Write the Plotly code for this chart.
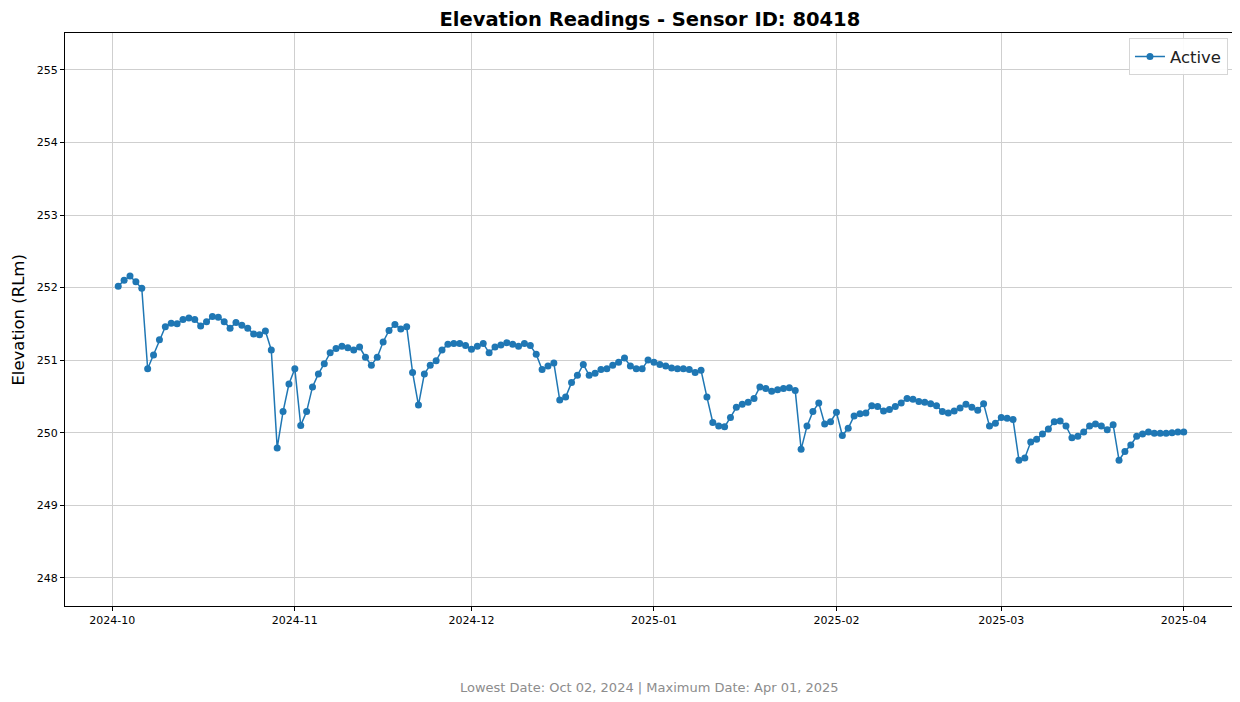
import pandas as pd
import plotly.graph_objects as go

# Daily elevation readings (RLm)
oct_values = [252.02, 252.10, 252.16, 252.08, 251.99, 250.88, 251.07, 251.28, 251.46, 251.51,
              251.50, 251.56, 251.58, 251.56, 251.47, 251.53, 251.60, 251.59, 251.53, 251.44,
              251.52, 251.48, 251.44, 251.36, 251.35, 251.40, 251.14, 249.79, 250.29, 250.67]
nov_values = [250.88, 250.10, 250.29, 250.63, 250.81, 250.95, 251.10, 251.16, 251.19, 251.17,
              251.14, 251.18, 251.04, 250.93, 251.04, 251.25, 251.41, 251.49, 251.43, 251.46,
              250.83, 250.38, 250.81, 250.93, 250.99, 251.14, 251.22, 251.23, 251.23, 251.20]
dec_values = [251.15, 251.19, 251.23, 251.10, 251.18, 251.21, 251.24, 251.22, 251.19, 251.23,
              251.20, 251.08, 250.87, 250.92, 250.96, 250.45, 250.49, 250.69, 250.79, 250.94,
              250.79, 250.82, 250.87, 250.88, 250.93, 250.97, 251.03, 250.92, 250.88, 250.88,
              251.00]
jan_values = [250.97, 250.94, 250.92, 250.89, 250.88, 250.88, 250.87, 250.83, 250.86, 250.49,
              250.14, 250.09, 250.08, 250.21, 250.35, 250.39, 250.42, 250.47, 250.63, 250.61,
              250.57, 250.59, 250.61, 250.62, 250.58, 249.77, 250.09, 250.29, 250.41, 250.12,
              250.15]
feb_values = [250.28, 249.96, 250.06, 250.23, 250.26, 250.27, 250.37, 250.36, 250.30, 250.32,
              250.36, 250.41, 250.47, 250.46, 250.43, 250.42, 250.40, 250.37, 250.29, 250.27,
              250.30, 250.34, 250.39, 250.35, 250.31, 250.40, 250.09, 250.13]
mar_values = [250.21, 250.20, 250.18, 249.62, 249.65, 249.87, 249.91, 249.98, 250.05, 250.15,
              250.16, 250.09, 249.93, 249.95, 250.01, 250.09, 250.12, 250.09, 250.04, 250.11,
              249.62, 249.74, 249.83, 249.95, 249.98, 250.01, 249.99, 249.99, 249.99, 250.00,
              250.01]
apr_values = [250.01]

FIRST_DATE = "2024-10-02"
LAST_DATE = "2025-04-01"
Y_TICKS = [248, 249, 250, 251, 252, 253, 254, 255]

values = oct_values + nov_values + dec_values + jan_values + feb_values + mar_values + apr_values
dates = pd.date_range(FIRST_DATE, LAST_DATE, freq="D")

FONT = "DejaVu Sans"

fig = go.Figure()
fig.add_trace(go.Scatter(
    x=dates, y=values, mode="lines+markers", name="Active",
    line=dict(color="#1f77b4", width=1.5),
    marker=dict(size=7, color="#1f77b4")))

# the page body has an 8px margin, so the figure is 8px smaller than the window
fig.update_layout(
    width=1232, height=694,
    paper_bgcolor="white", plot_bgcolor="white",
    margin=dict(l=57, r=3, t=25, b=96),
    font=dict(family=FONT, size=11, color="black"),
    title=dict(text="<b>Elevation Readings - Sensor ID: 80418</b>",
               x=0.521, xanchor="center", y=0.984, yanchor="middle",
               font=dict(family=FONT, size=19.5, color="black")),
    legend=dict(x=0.9923, y=0.991, xanchor="right", yanchor="top",
                bgcolor="rgba(255,255,255,0.9)", bordercolor="#d6d6d6", borderwidth=1,
                font=dict(family=FONT, size=16.5, color="#222")),
    showlegend=True,
)

fig.update_xaxes(
    range=["2024-09-22 23:00", "2025-04-10 01:00"],
    tickvals=pd.date_range("2024-10-01", "2025-04-01", freq="MS"),
    tickformat="%Y-%m",
    showgrid=True, gridcolor="#cfcfcf", gridwidth=1,
    showline=True, linecolor="black", linewidth=1, mirror=True,
    ticks="outside", ticklen=4, tickcolor="black",
    tickfont=dict(family=FONT, size=11, color="black"),
    zeroline=False)

fig.update_yaxes(
    range=[247.61, 255.51],
    tickvals=Y_TICKS,
    showgrid=True, gridcolor="#cfcfcf", gridwidth=1,
    showline=True, linecolor="black", linewidth=1, mirror=True,
    ticks="outside", ticklen=4, tickcolor="black",
    tickfont=dict(family=FONT, size=11, color="black"),
    zeroline=False)

fig.add_annotation(
    text="Elevation (RLm)", textangle=-90,
    xref="paper", yref="paper", x=-0.040, y=0.5,
    xanchor="center", yanchor="middle", showarrow=False,
    font=dict(family=FONT, size=16.5, color="black"))

fig.add_annotation(
    text="Lowest Date: Oct 02, 2024 | Maximum Date: Apr 01, 2025",
    xref="paper", yref="paper", x=0.499, y=-0.143,
    xanchor="center", yanchor="middle", showarrow=False,
    font=dict(family=FONT, size=13, color="#8c8c8c"))

fig.write_html("out.html")
